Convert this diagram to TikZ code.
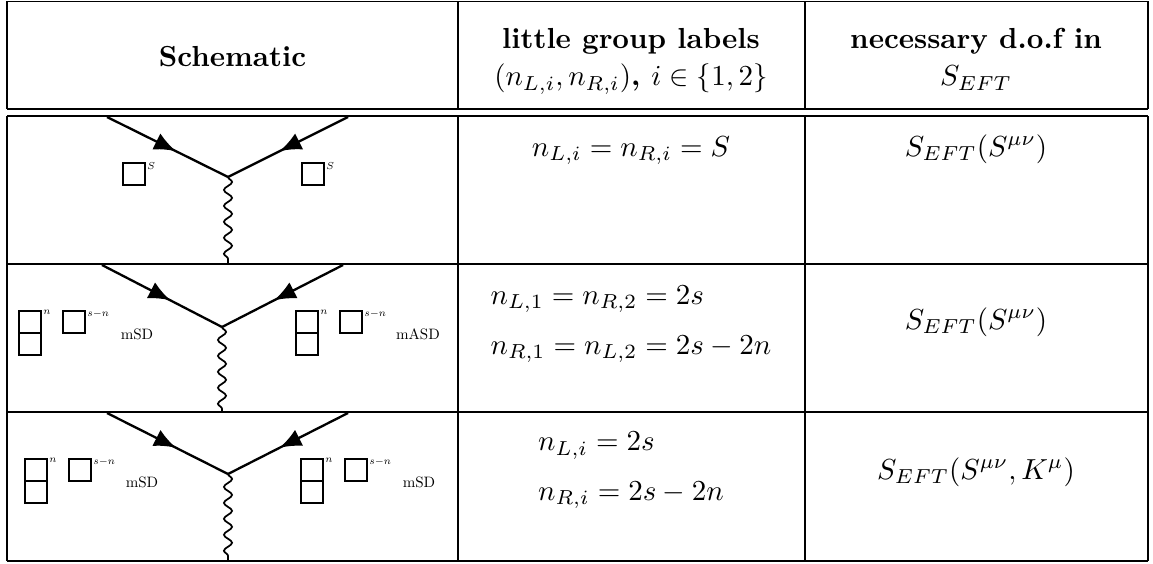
\documentclass[tikz,border=0pt]{standalone}
\usepackage{amsmath,amssymb}
\usetikzlibrary{arrows.meta,decorations.pathmorphing,decorations.markings}

\tikzset{
  fermion/.style={line width=0.8pt,postaction={decorate},
    decoration={markings,mark=at position 0.57 with {\arrow{Latex[length=7.5pt,width=6.2pt]}}}},
  photon/.style={line width=0.6pt,decorate,decoration={snake,amplitude=1.4pt,segment length=5.5pt}},
  tabrule/.style={line width=0.45pt},
  young/.style={line width=0.35pt},
  upper/.style={anchor=north west,scale=0.5,transform shape},
  dlabel/.style={scale=0.52,transform shape}
}

\begin{document}
\begin{tikzpicture}[x=0.345pt,y=0.345pt]
\tikzstyle{every node}+=[inner sep=0pt]
\useasboundingbox (0,0) rectangle (1153,-563);

\draw [tabrule] (7,-1.5) -- (1148,-1.5);
\draw [tabrule] (7,-109) -- (1148,-109);
\draw [tabrule] (7,-116) -- (1148,-116);
\draw [tabrule] (7,-264) -- (1148,-264);
\draw [tabrule] (7,-412) -- (1148,-412);
\draw [tabrule] (7,-561) -- (1148,-561);
\draw [tabrule] (7,-1.5) -- (7,-109) (458,-1.5) -- (458,-109) (805,-1.5) -- (805,-109) (1148,-1.5) -- (1148,-109);
\draw [tabrule] (7,-116) -- (7,-561) (458,-116) -- (458,-561) (805,-116) -- (805,-561) (1148,-116) -- (1148,-561);

\node (sch) [anchor=base,font=\bfseries] at (232.5,-66) {Schematic};
\node (lgl) [anchor=north,align=center,font=\bfseries] at (631,-28) {little group labels\\[0.8pt]$(n_{L,i},n_{R,i})$, $i\in\{1,2\}$};
\node (dof) [anchor=north,align=center,font=\bfseries] at (976,-28) {necessary d.o.f in\\[0.8pt]$S_{EFT}$};

\coordinate (l1) at (107,-117);
\coordinate (r1) at (348,-117);
\coordinate (v1) at (228,-177);
\coordinate (w1) at (228,-263);
\draw [fermion] (l1) -- (v1);
\draw [fermion] (r1) -- (v1);
\draw [photon] (v1) -- (w1);
\draw [young] (123,-163) rectangle (145,-185);
\node (s1l) [upper] at (147,-162) {$\scriptstyle S$};
\draw [young] (302,-163) rectangle (324,-185);
\node (s1r) [upper] at (326,-162) {$\scriptstyle S$};
\node (g1) [anchor=base] at (631,-156) {$n_{L,i} = n_{R,i} = S$};
\node (d1) [anchor=base] at (976,-156) {$S_{EFT}(S^{\mu\nu})$};

\coordinate (l2) at (102,-265);
\coordinate (r2) at (343,-265);
\coordinate (v2) at (222,-327);
\coordinate (w2) at (222,-411);
\draw [fermion] (l2) -- (v2);
\draw [fermion] (r2) -- (v2);
\draw [photon] (v2) -- (w2);
\draw [young] (19,-311) rectangle (41,-355) (19,-333) -- (41,-333);
\node (n2l) [upper] at (43,-310) {$\scriptstyle n$};
\draw [young] (63,-311) rectangle (85,-333);
\node (m2l) [upper] at (87,-310) {$\scriptstyle s-n$};
\node (t2l) [dlabel] at (137,-334) {mSD};
\draw [young] (296,-311) rectangle (318,-355) (296,-333) -- (318,-333);
\node (n2r) [upper] at (320,-310) {$\scriptstyle n$};
\draw [young] (340,-311) rectangle (362,-333);
\node (m2r) [upper] at (364,-310) {$\scriptstyle s-n$};
\node (t2r) [dlabel] at (418,-334) {mASD};
\node (g2) [align=left] at (631,-324) {$n_{L,1} = n_{R,2} = 2s$\\[5.2pt]$n_{R,1} = n_{L,2} = 2s-2n$};
\node (d2) [anchor=base] at (976,-329) {$S_{EFT}(S^{\mu\nu})$};

\coordinate (l3) at (107,-413);
\coordinate (r3) at (348,-413);
\coordinate (v3) at (228,-474);
\coordinate (w3) at (228,-560);
\draw [fermion] (l3) -- (v3);
\draw [fermion] (r3) -- (v3);
\draw [photon] (v3) -- (w3);
\draw [young] (25,-459) rectangle (47,-503) (25,-481) -- (47,-481);
\node (n3l) [upper] at (49,-458) {$\scriptstyle n$};
\draw [young] (69,-459) rectangle (91,-481);
\node (m3l) [upper] at (93,-458) {$\scriptstyle s-n$};
\node (t3l) [dlabel] at (142,-482) {mSD};
\draw [young] (301,-459) rectangle (323,-503) (301,-481) -- (323,-481);
\node (n3r) [upper] at (325,-458) {$\scriptstyle n$};
\draw [young] (345,-459) rectangle (367,-481);
\node (m3r) [upper] at (369,-458) {$\scriptstyle s-n$};
\node (t3r) [dlabel] at (419,-482) {mSD};
\node (g3) [align=left] at (631,-470.5) {$n_{L,i} = 2s$\\[5.2pt]$n_{R,i} = 2s-2n$};
\node (d3) [anchor=base] at (976,-479) {$S_{EFT}(S^{\mu\nu}, K^{\mu})$};
\end{tikzpicture}
\end{document}
